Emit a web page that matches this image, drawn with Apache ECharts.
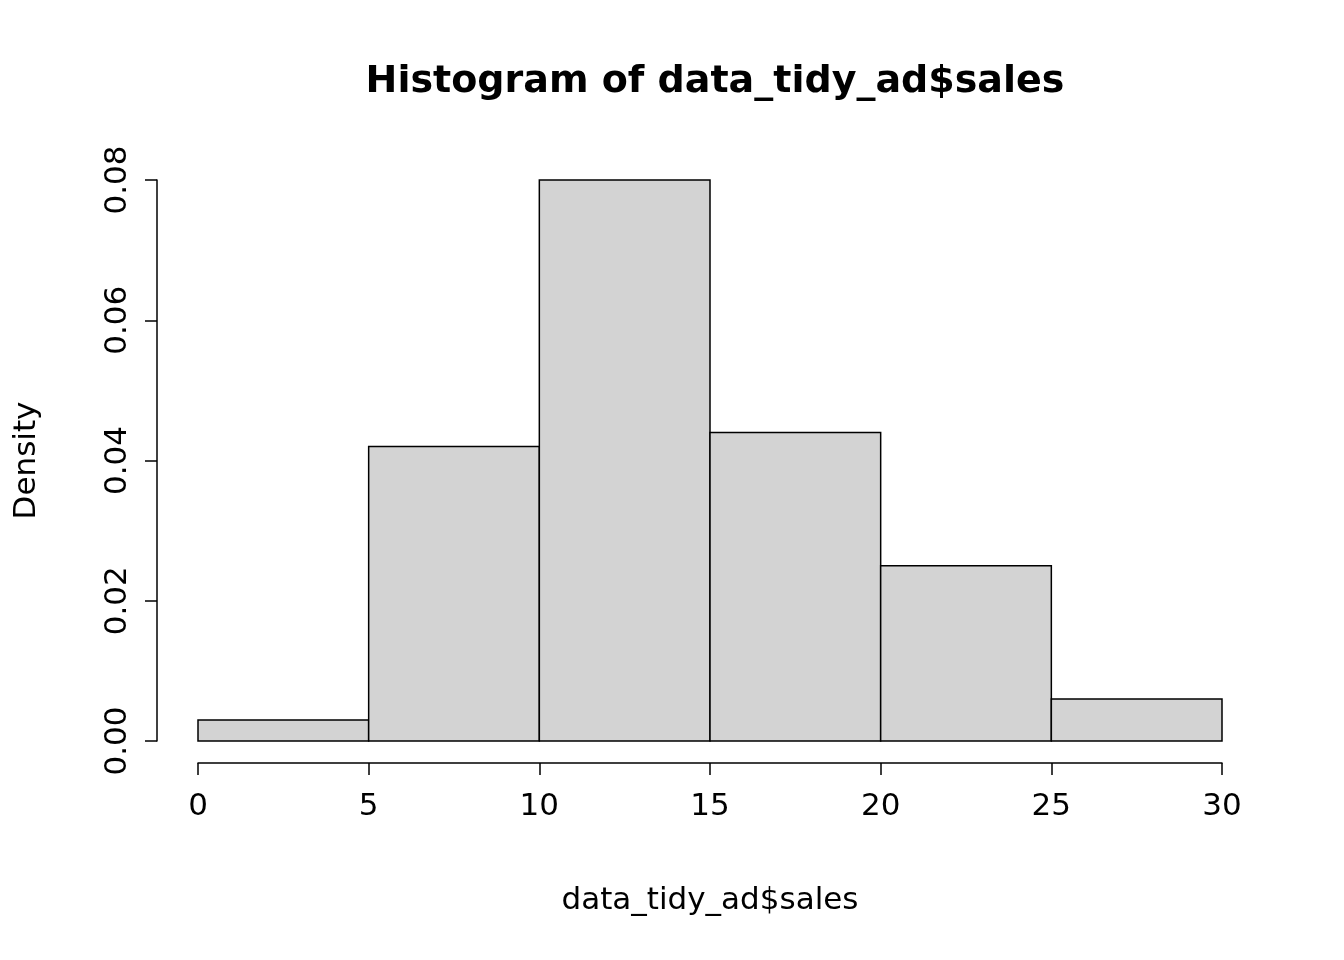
<!DOCTYPE html>
<html>
<head>
<meta charset="utf-8">
<script src="https://cdn.jsdelivr.net/npm/echarts@6/dist/echarts.min.js"></script>
<style>html,body{margin:0;padding:0;background:#fff}#main{width:1344px;height:960px}</style>
</head>
<body>
<div id="main"></div>
<script>
var binStarts = [0, 5, 10, 15, 20, 25];
var binWidth = 5;
var densities = [0.003, 0.042, 0.08, 0.044, 0.025, 0.006];

var chart = echarts.init(document.getElementById('main'));
var font = 'DejaVu Sans';
var data = binStarts.map(function (s, i) { return [s, s + binWidth, densities[i]]; });

chart.setOption({
  animation: false,
  title: {
    text: 'Histogram of data_tidy_ad$sales',
    left: 710, top: 58, textAlign: 'center',
    textStyle: { fontFamily: font, fontSize: 38, fontWeight: 'bold', color: '#000' }
  },
  grid: { left: 198, right: 122, top: 180, bottom: 219 },
  xAxis: {
    type: 'value', min: 0, max: 30, interval: 5, offset: 22,
    name: 'data_tidy_ad$sales', nameLocation: 'middle', nameGap: 122,
    nameTextStyle: { fontFamily: font, fontSize: 31, color: '#000' },
    axisLine: { show: true, onZero: false, lineStyle: { color: '#000', width: 1.5 } },
    axisTick: { show: true, length: 12, lineStyle: { color: '#000', width: 1.5 } },
    axisLabel: { fontFamily: font, fontSize: 31, color: '#000', margin: 28 },
    splitLine: { show: false }
  },
  yAxis: {
    type: 'value', min: 0, max: 0.08, interval: 0.02, offset: 41,
    name: 'Density', nameLocation: 'middle', nameGap: 115,
    nameTextStyle: { fontFamily: font, fontSize: 31, color: '#000' },
    axisLine: { show: true, onZero: false, lineStyle: { color: '#000', width: 1.5 } },
    axisTick: { show: true, length: 12, lineStyle: { color: '#000', width: 1.5 } },
    axisLabel: { fontFamily: font, fontSize: 31, color: '#000', rotate: 90, margin: 24,
      formatter: function (v) { return v.toFixed(2); } },
    splitLine: { show: false }
  },
  series: [{
    type: 'custom',
    data: data,
    renderItem: function (params, api) {
      var p0 = api.coord([api.value(0), api.value(2)]);
      var p1 = api.coord([api.value(1), 0]);
      return {
        type: 'rect',
        shape: { x: p0[0], y: p0[1], width: p1[0] - p0[0], height: p1[1] - p0[1] },
        style: { fill: '#d3d3d3', stroke: '#000', lineWidth: 1.5 }
      };
    }
  }]
});
</script>
</body>
</html>
